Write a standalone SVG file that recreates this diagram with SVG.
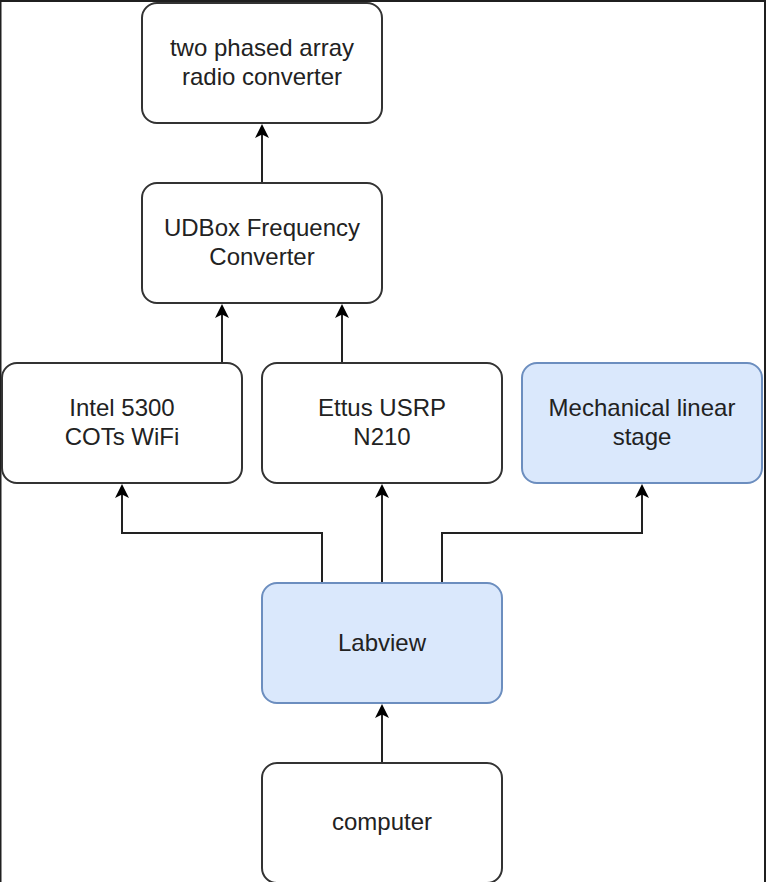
<svg xmlns="http://www.w3.org/2000/svg" width="766" height="882" viewBox="0 0 766 882">
  <style>
    .box { fill: #ffffff; stroke: #333333; stroke-width: 2; }
    .blue { fill: #dae8fc; stroke: #6c8ebf; stroke-width: 2; }
    .lbl { font-family: "Liberation Sans", Arial, sans-serif; font-size: 24px; fill: #222222; text-anchor: middle; }
    .edge { fill: none; stroke: #222222; stroke-width: 2; marker-end: url(#arrow); }
    .frame { fill: #1f1f1f; }
  </style>
  <defs>
    <marker id="arrow" viewBox="0 0 14 14" refX="10" refY="7" markerWidth="14" markerHeight="14" markerUnits="userSpaceOnUse" orient="auto">
      <path d="M0,0 L14,7 L0,14 L3.5,7 Z" fill="#000000"/>
    </marker>
  </defs>
  <rect x="0" y="0" width="766" height="882" fill="#ffffff"/>
  <g id="frame">
    <rect class="frame" x="0" y="0" width="766" height="2"/>
    <rect class="frame" x="0" y="0" width="1.5" height="882"/>
    <rect class="frame" x="764" y="0" width="2" height="882"/>
  </g>
  <g id="connectors">
    <path class="edge" d="M262,183 L262,128"/>
    <path class="edge" d="M222,363 L222,308"/>
    <path class="edge" d="M342,363 L342,308"/>
    <path class="edge" d="M322,583 L322,533 L122,533 L122,488"/>
    <path class="edge" d="M382,583 L382,488"/>
    <path class="edge" d="M442,583 L442,533 L642,533 L642,488"/>
    <path class="edge" d="M382,763 L382,708"/>
  </g>
  <g id="node-phased">
    <rect class="box" x="142" y="3" width="240" height="120" rx="15" ry="15"/>
    <text class="lbl" x="262" y="56">two phased array</text>
    <text class="lbl" x="262" y="85">radio converter</text>
  </g>
  <g id="node-udbox">
    <rect class="box" x="142" y="183" width="240" height="120" rx="15" ry="15"/>
    <text class="lbl" x="262" y="236">UDBox Frequency</text>
    <text class="lbl" x="262" y="265">Converter</text>
  </g>
  <g id="node-intel">
    <rect class="box" x="2" y="363" width="240" height="120" rx="15" ry="15"/>
    <text class="lbl" x="122" y="416">Intel 5300</text>
    <text class="lbl" x="122" y="445">COTs WiFi</text>
  </g>
  <g id="node-ettus">
    <rect class="box" x="262" y="363" width="240" height="120" rx="15" ry="15"/>
    <text class="lbl" x="382" y="416">Ettus USRP</text>
    <text class="lbl" x="382" y="445">N210</text>
  </g>
  <g id="node-stage">
    <rect class="blue" x="522" y="363" width="240" height="120" rx="15" ry="15"/>
    <text class="lbl" x="642" y="416">Mechanical linear</text>
    <text class="lbl" x="642" y="445">stage</text>
  </g>
  <g id="node-labview">
    <rect class="blue" x="262" y="583" width="240" height="120" rx="15" ry="15"/>
    <text class="lbl" x="382" y="651">Labview</text>
  </g>
  <g id="node-computer">
    <rect class="box" x="262" y="763" width="240" height="120" rx="15" ry="15"/>
    <text class="lbl" x="382" y="830">computer</text>
  </g>
</svg>
